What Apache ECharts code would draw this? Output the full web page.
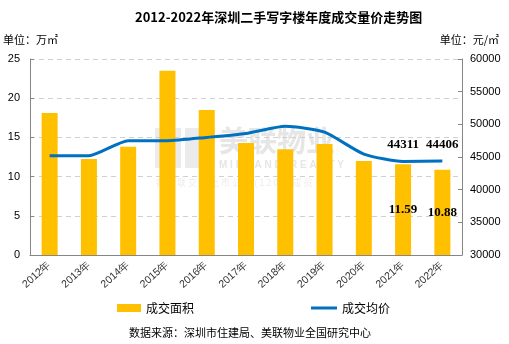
<!DOCTYPE html>
<html>
<head>
<meta charset="utf-8">
<script src="https://cdn.jsdelivr.net/npm/echarts@6/dist/echarts.min.js"></script>
<style>
  html, body { margin: 0; padding: 0; background: #fff; }
  #chart { width: 509px; height: 344px; }
</style>
</head>
<body>
<div id="chart"></div>
<script>
// 年份
const years = ['2012年', '2013年', '2014年', '2015年', '2016年', '2017年', '2018年', '2019年', '2020年', '2021年', '2022年'];
// 成交面积（万㎡）
const areaValues = [18.1, 12.25, 13.8, 23.5, 18.5, 14.3, 13.5, 14.15, 12.0, 11.59, 10.88];
// 成交均价（元/㎡）
const priceValues = [45200, 45200, 47500, 47500, 48000, 48600, 49700, 48800, 45450, 44311, 44406];
// 标注数值的年份
const labeledYears = ['2021年', '2022年'];

const labelFont = { fontFamily: 'Liberation Serif', fontWeight: 'bold', fontSize: 13, color: '#000' };
const CJK = '"Noto Sans CJK SC", sans-serif';

const chart = echarts.init(document.getElementById('chart'));
chart.setOption({
  animation: false,
  backgroundColor: '#fff',
  title: {
    text: '2012-2022年深圳二手写字楼年度成交量价走势图',
    left: 130, top: 6,
    textStyle: { fontFamily: CJK, fontSize: 13, fontWeight: 'bold', color: '#000' }
  },
  graphic: [
    { type: 'text', left: 3, top: 34, style: { text: '单位：万㎡', font: '11px ' + CJK, fill: '#000' } },
    { type: 'text', right: 10, top: 34, style: { text: '单位：元/㎡', font: '11px ' + CJK, fill: '#000' } },
    // 水印
    { type: 'group', left: 155, top: 126, z: 0, silent: true, children: [
      { type: 'rect', shape: { x: 0, y: 4, width: 26, height: 40 }, style: { fill: '#ebebeb' } },
      { type: 'rect', shape: { x: 30, y: 4, width: 30, height: 40 }, style: { fill: '#ebebeb' } },
      { type: 'text', x: 64, y: 2, style: { text: '美联物业', font: 'bold 29px ' + CJK, fill: '#e6e6e6' } },
      { type: 'text', x: 64, y: 36, style: { text: 'M I D L A N D   R E A L T Y', font: 'bold 10px sans-serif', fill: '#e6e6e6' } },
      { type: 'text', x: 0, y: 54, style: { text: '香 港 联 交 所 上 市 公 司 ( 1 2 0 0 ) 成 员', font: '9px ' + CJK, fill: '#ececec' } }
    ]}
  ],
  legend: [
    {
      left: 112, top: 297, itemWidth: 24, itemHeight: 8,
      textStyle: { fontFamily: CJK, fontSize: 12, color: '#000' },
      data: [{ name: '成交面积', icon: 'rect' }]
    },
    {
      left: 306, top: 297, itemWidth: 26, itemHeight: 3,
      textStyle: { fontFamily: CJK, fontSize: 12, color: '#000' },
      data: [{ name: '成交均价', icon: 'rect' }]
    }
  ],
  grid: { left: 30, right: 47, top: 59, bottom: 89 },
  xAxis: {
    type: 'category',
    data: years,
    axisLine: { lineStyle: { color: '#868686' } },
    axisTick: { inside: true, length: 4, lineStyle: { color: '#868686' } },
    axisLabel: { rotate: 42, fontFamily: 'Liberation Sans', fontSize: 10.5, color: '#333', margin: 8 }
  },
  yAxis: [
    {
      type: 'value', min: 0, max: 25, interval: 5,
      axisLine: { show: true, lineStyle: { color: '#868686' } },
      axisTick: { show: true, inside: true, length: 4, lineStyle: { color: '#868686' } },
      axisLabel: { fontFamily: 'Liberation Sans', fontSize: 11, color: '#000', margin: 10 },
      splitLine: { lineStyle: { color: '#d0d0d0', type: [5, 4] } }
    },
    {
      type: 'value', min: 30000, max: 60000, interval: 5000,
      axisLine: { show: true, lineStyle: { color: '#868686' } },
      axisTick: { show: true, inside: true, length: 4, lineStyle: { color: '#868686' } },
      axisLabel: { fontFamily: 'Liberation Sans', fontSize: 11, color: '#000', margin: 8, formatter: v => String(v) },
      splitLine: { show: false }
    }
  ],
  series: [
    {
      name: '成交面积', type: 'bar', yAxisIndex: 0, barWidth: 16, z: 2,
      itemStyle: { color: '#FFC000' },
      data: areaValues.map((v, i) => ({
        value: v,
        label: labeledYears.includes(years[i])
          ? { show: true, position: 'inside', formatter: String(v), ...labelFont }
          : { show: false }
      }))
    },
    {
      name: '成交均价', type: 'line', yAxisIndex: 1, smooth: 0.2, z: 3,
      symbol: 'circle', symbolSize: 0.01, showAllSymbol: true,
      lineStyle: { color: '#0070C0', width: 3 },
      itemStyle: { color: '#0070C0' },
      data: priceValues.map((v, i) => ({
        value: v,
        label: labeledYears.includes(years[i])
          ? { show: true, position: 'top', distance: 10, formatter: String(v), ...labelFont }
          : { show: false }
      }))
    }
  ]
});
</script>
<div style="position:absolute;left:0;top:324px;width:500px;text-align:center;font:11px 'Noto Sans CJK SC',sans-serif;color:#000;">数据来源：深圳市住建局、美联物业全国研究中心</div>
</body>
</html>
